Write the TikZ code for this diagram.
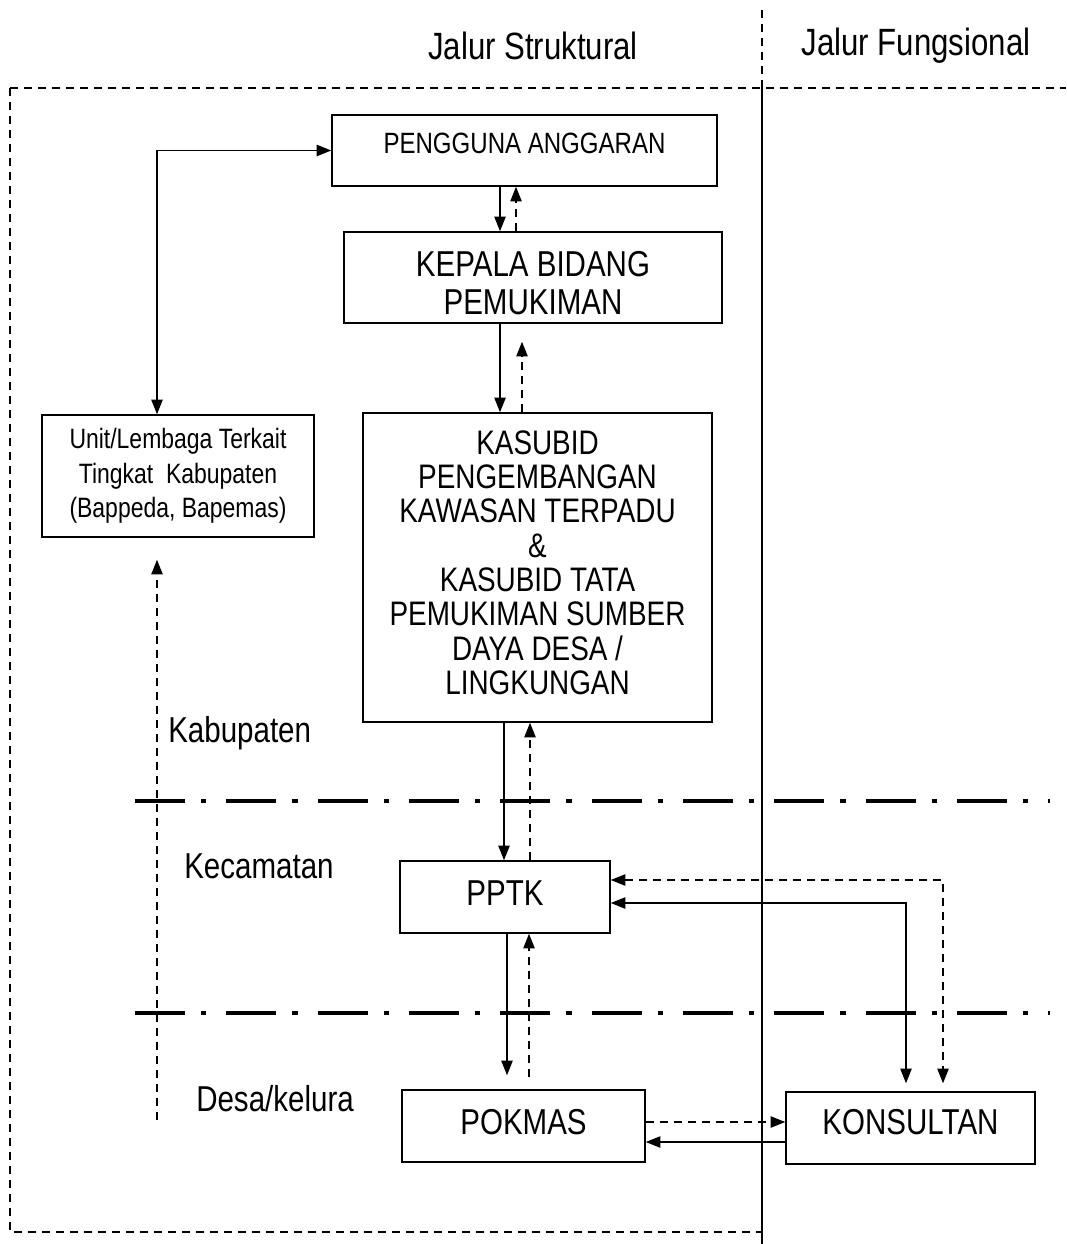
\documentclass[tikz,border=0pt]{standalone}
\usepackage{fontspec}
\setmainfont{Liberation Sans}[FakeStretch=0.82]
\usetikzlibrary{arrows.meta,calc}
\begin{document}
\begin{tikzpicture}[x=0.75pt,y=-0.75pt,
  box/.style={draw, line width=1.1pt, inner sep=0pt, align=center},
  tip/.style={-{Triangle[length=11pt,width=8.5pt]}},
  dtip/.style={{Triangle[length=11pt,width=8.5pt]}-{Triangle[length=11pt,width=8.5pt]}},
  sline/.style={line width=1.1pt},
  dline/.style={line width=1.1pt, dash pattern=on 6pt off 4.5pt},
  frame/.style={line width=0.9pt, dash pattern=on 6pt off 4.5pt},
  sep/.style={line width=3pt, dash pattern=on 37.5pt off 12pt on 4pt off 15pt},
  fA/.style={font=\fontsize{28.5}{30}\selectfont},
  fB/.style={font=\fontsize{27}{28.5}\selectfont},
  fC/.style={font=\fontsize{22}{24}\selectfont},
  fD/.style={font=\fontsize{21}{25.9}\selectfont},
  fE/.style={font=\fontsize{25.5}{25.7}\selectfont},
]
\useasboundingbox (0,0) rectangle (1066,1244);

% frame
\draw[frame] (762,10) -- (762,88);
\draw[line width=0.9pt] (762,88) -- (762,1244);
\draw[frame] (10,88) -- (1066,88);
\draw[frame] (10,88) -- (10,1232) -- (762,1232);

% headers
\node[fA] (hs) at (533,46) {Jalur Struktural};
\node[fA] (hf) at (916,46) {Jalur Fungsional};

% separators
\draw[sep] (135,801) -- (1050,801);
\draw[sep] (135,1013) -- (1050,1013);

% boxes
\node[box, fC, minimum width=288.75pt, minimum height=53.25pt] (pa) at (524.5,150.5) {\raisebox{10.5pt}{PENGGUNA ANGGARAN}};
\node[box, fB, minimum width=283.5pt, minimum height=68.25pt] (kb) at (533,277.5) {\rule{0pt}{26.8pt}KEPALA BIDANG\\PEMUKIMAN};
\node[box, fD, minimum width=204pt, minimum height=91.5pt] (unit) at (178,476) {Unit/Lembaga Terkait\\Tingkat\ \ Kabupaten\\(Bappeda, Bapemas)};
\node[box, fE, minimum width=261.75pt, minimum height=231.75pt] (ks) at (537.5,567.5) {KASUBID\\PENGEMBANGAN\\KAWASAN TERPADU\\\&\\KASUBID TATA\\PEMUKIMAN SUMBER\\DAYA DESA /\\LINGKUNGAN\rule[-7.5pt]{0pt}{7.5pt}};
\node[box, fB, minimum width=157.5pt, minimum height=54pt] (pptk) at (505,897) {\raisebox{6pt}{PPTK}};
\node[box, fB, minimum width=182.25pt, minimum height=54pt] (pokmas) at (523.5,1126) {\raisebox{6pt}{POKMAS}};
\node[box, fB, minimum width=186.75pt, minimum height=54pt] (kons) at (910.5,1128) {\raisebox{9pt}{KONSULTAN}};

% side labels
\node[fB, anchor=west, inner sep=0pt] (kab) at (168,733) {Kabupaten};
\node[fB, anchor=west, inner sep=0pt] (kec) at (184,866) {Kecamatan};
\node[fB, anchor=west, inner sep=0pt] (desa) at (196,1099) {Desa/kelura};

% connectors
\draw[sline, tip] (pa.south -| 500,0) -- (kb.north -| 500,0);
\draw[dline, tip] (kb.north -| 516,0) -- (pa.south -| 516,0);
\draw[sline, tip] (kb.south -| 500,0) -- (ks.north -| 500,0);
\draw[dline, tip] (ks.north -| 522,0) -- ($(kb.south -| 522,0)+(0,18)$);
\draw[sline, dtip] (pa.west) -| (unit.north -| 157,0);
\coordinate (kabend) at (157,1120);
\draw[dline, tip] (kabend) -- ($(unit.south -| 157,0)+(0,22)$);
\draw[sline, tip] (ks.south -| 504,0) -- (pptk.north -| 504,0);
\draw[dline, tip] (pptk.north -| 530,0) -- (ks.south -| 530,0);
\draw[sline, tip] (pptk.south -| 507,0) -- ($(pokmas.north -| 507,0)+(0,-14)$);
\draw[dline, tip] ($(pokmas.north -| 529,0)+(0,-12)$) -- (pptk.south -| 529,0);
\draw[sline, dtip] (pptk.east |- 0,903) -| ($(kons.north -| 906,0)+(0,-8)$);
\draw[dline, dtip] (pptk.east |- 0,880) -| ($(kons.north -| 943,0)+(0,-8)$);
\draw[dline, tip] (pokmas.east |- 0,1122) -- (kons.west |- 0,1122);
\draw[sline, tip] (kons.west |- 0,1142) -- (pokmas.east |- 0,1142);
\end{tikzpicture}
\end{document}
